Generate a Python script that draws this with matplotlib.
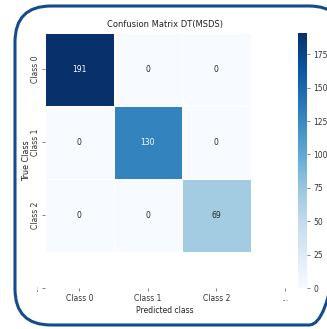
import numpy as np
import matplotlib
matplotlib.use("Agg")
import matplotlib.pyplot as plt
import seaborn as sns
from matplotlib.patches import FancyBboxPatch

# confusion matrix values (rows = true, cols = predicted)
class_names = ["Class 0", "Class 1", "Class 2"]
tick_names = ["Class 0", "Class 1", "Class 2", "..."]
cm = np.array([
    [191, 0, 0],
    [0, 130, 0],
    [0, 0, 69],
])

W, H = 327, 329
fig = plt.figure(figsize=(W / 100, H / 100), dpi=100)
fig.patch.set_facecolor("white")

ax = fig.add_axes([45 / W, 1 - 288 / H, 240 / W, 255 / H])
cax = fig.add_axes([298 / W, 1 - 288 / H, 9 / W, 255 / H])

sns.heatmap(cm, annot=True, fmt="d", cmap="Blues", vmin=0, vmax=cm.max(),
            linewidths=0.6, linecolor="white", ax=ax, cbar_ax=cax,
            annot_kws={"fontsize": 5.5})

# four ticks on a 3x3 grid pushes the view out by half a cell
ticks = np.arange(len(tick_names)) + 0.5
ax.set_xticks(ticks)
ax.set_xticklabels(tick_names, fontsize=5.5, color="#333333")
ax.set_yticks(ticks)
ax.set_yticklabels(tick_names, fontsize=5.5, rotation=90, va="center", color="#333333")
ax.set_xlim(0, 3.5)
ax.set_ylim(3.5, 0)
ax.tick_params(length=2.5, width=0.5, pad=2, color="#555555")
ax.tick_params(axis="y", pad=1)

ax.set_title("Confusion Matrix DT(MSDS)", fontsize=6, pad=4, color="#222222")
ax.set_xlabel("Predicted class", fontsize=5.5, labelpad=2, color="#222222")
ax.set_ylabel("True Class", fontsize=5.8, labelpad=0, color="#222222")

cax.tick_params(labelsize=5.5, length=2.5, width=0.5, pad=2, color="#555555",
                labelcolor="#333333")
cax.set_yticks(np.arange(0, 176, 25))

# rounded frame around the whole figure
frame = fig.add_axes([0, 0, 1, 1], facecolor="none")
frame.set_xlim(0, W)
frame.set_ylim(H, 0)
frame.axis("off")
frame.add_patch(FancyBboxPatch((15, 6), 330, 319,
                               boxstyle="round,pad=0,rounding_size=36",
                               fill=False, edgecolor="#124b8e", linewidth=2.2))

fig.savefig("out.png", dpi=100)
